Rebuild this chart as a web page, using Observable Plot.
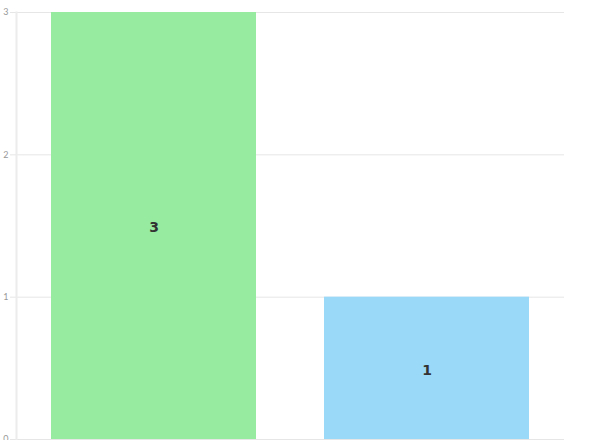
<!DOCTYPE html>
<html>
<head>
<meta charset="utf-8">
<script src="https://cdn.jsdelivr.net/npm/d3@7"></script>
<script src="https://cdn.jsdelivr.net/npm/@observablehq/plot@0.6"></script>
<style>
  html, body { margin: 0; padding: 0; background: #fff; }
  #chart svg { display: block; }
</style>
</head>
<body>
<div id="chart"></div>
<script>
const categories = ["A", "B"];
const values = [3, 1];
const colors = ["#97eba1", "#9ad9f8"];
const yTicks = [0, 1, 2, 3];

const data = categories.map((c, i) => ({category: c, value: values[i], color: colors[i]}));

const chart = Plot.plot({
  width: 596,
  height: 440,
  marginTop: 12,
  marginBottom: 1,
  marginLeft: 16,
  marginRight: 32,
  style: {fontFamily: "Lato, sans-serif", background: "#fff"},
  x: {domain: categories, paddingInner: 0.25, paddingOuter: 0.128, axis: null},
  y: {domain: [0, 3]},
  marks: [
    Plot.gridY(yTicks, {stroke: "#e6e6e6", strokeOpacity: 1}),
    Plot.axisY(yTicks, {tickSize: 6, tickPadding: 2, stroke: "#e6e6e6", fill: "#999", fontSize: 9, tickFormat: "d", label: null}),
    Plot.barY(data, {x: "category", y: "value", fill: "color"}),
    Plot.text(data, {x: "category", y: d => d.value / 2, text: d => String(d.value), fill: "#333", fontSize: 14, fontWeight: "bold", fontFamily: "DejaVu Sans", dy: 2}),
    Plot.frame({anchor: "left", stroke: "#ececec", strokeWidth: 2})
  ]
});
document.getElementById("chart").appendChild(chart);
</script>
</body>
</html>
